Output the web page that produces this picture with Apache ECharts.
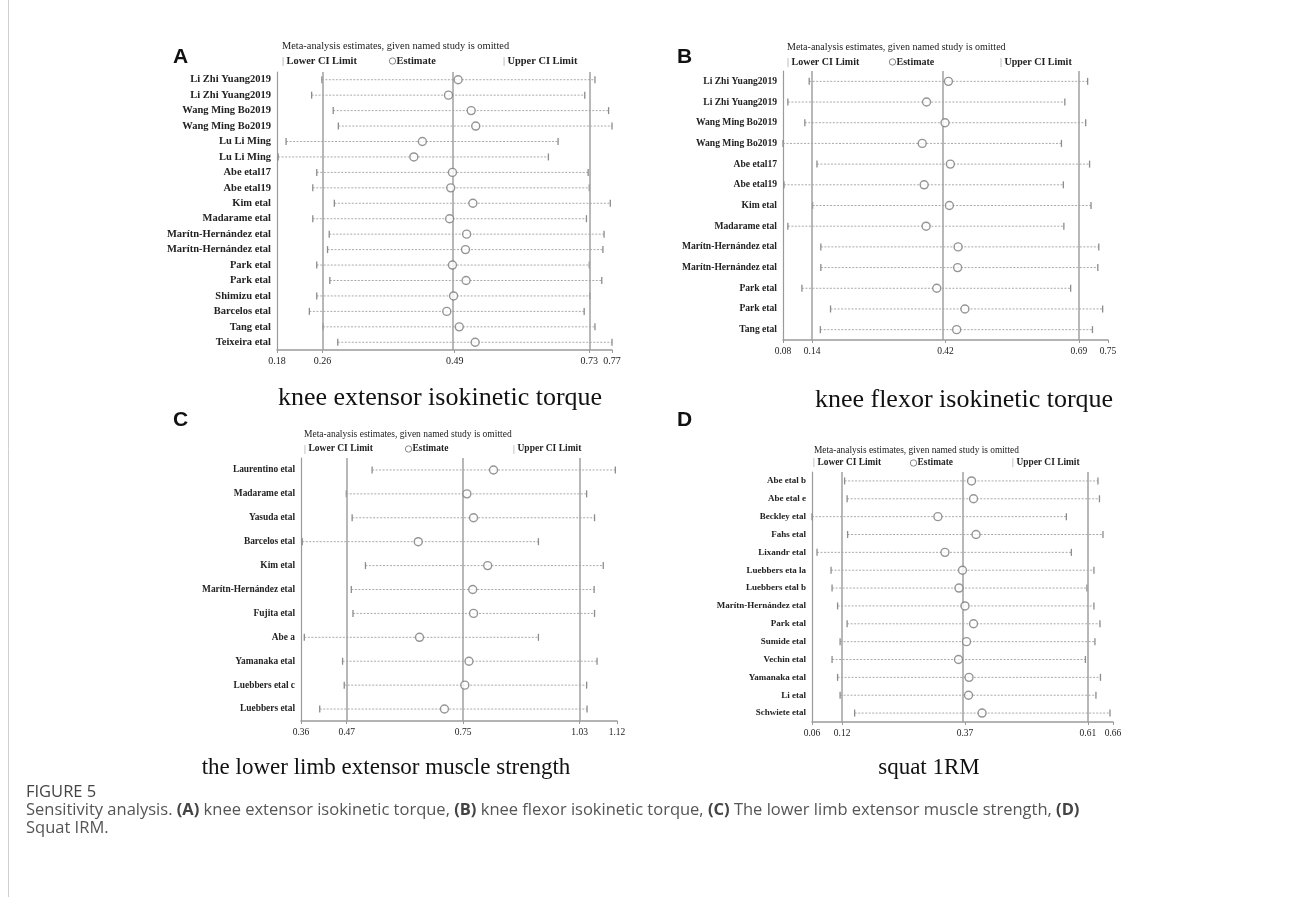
<!DOCTYPE html>
<html><head><meta charset="utf-8">
<script src="https://cdn.jsdelivr.net/npm/echarts@6/dist/echarts.min.js"></script>
<style>html,body{margin:0;padding:0;background:#fff}#c{width:1289px;height:897px}</style>
</head><body><div id="c"></div>
<script>
// ---------- Panel A: knee extensor isokinetic torque ----------
const catsA = ['Li Zhi Yuang2019','Li Zhi Yuang2019','Wang Ming Bo2019','Wang Ming Bo2019','Lu Li Ming','Lu Li Ming','Abe etal17','Abe etal19','Kim etal','Madarame etal','Marítn-Hernández etal','Marítn-Hernández etal','Park etal','Park etal','Shimizu etal','Barcelos etal','Tang etal','Teixeira etal'];
const lowA = [0.259,0.241,0.279,0.288,0.196,0.182,0.250,0.243,0.281,0.243,0.272,0.269,0.250,0.273,0.250,0.237,0.261,0.287];
const estA = [0.499,0.482,0.522,0.530,0.436,0.421,0.489,0.486,0.525,0.484,0.514,0.512,0.489,0.513,0.491,0.479,0.501,0.529];
const upA  = [0.740,0.722,0.764,0.770,0.675,0.658,0.728,0.730,0.767,0.725,0.756,0.754,0.730,0.752,0.731,0.721,0.740,0.770];
const refA = [0.26,0.493,0.73];
const tickA = [0.18,0.26,0.493,0.73,0.77];
const tickLabA = ['0.18','0.26','0.49','0.73','0.77'];

// ---------- Panel B: knee flexor isokinetic torque ----------
const catsB = ['Li Zhi Yuang2019','Li Zhi Yuang2019','Wang Ming Bo2019','Wang Ming Bo2019','Abe etal17','Abe etal19','Kim etal','Madarame etal','Marítn-Hernández etal','Marítn-Hernández etal','Park etal','Park etal','Tang etal'];
const lowB = [0.134,0.090,0.125,0.080,0.150,0.082,0.141,0.090,0.158,0.158,0.119,0.178,0.157];
const estB = [0.421,0.376,0.414,0.367,0.425,0.371,0.423,0.375,0.441,0.440,0.397,0.455,0.438];
const upB  = [0.708,0.661,0.704,0.654,0.712,0.658,0.715,0.659,0.731,0.729,0.673,0.739,0.718];
const refB = [0.14,0.415,0.69];
const tickB = [0.08,0.14,0.415,0.69,0.75];
const tickLabB = ['0.08','0.14','0.42','0.69','0.75'];

// ---------- Panel C: lower limb extensor muscle strength ----------
const catsC = ['Laurentino etal','Madarame etal','Yasuda etal','Barcelos etal','Kim etal','Marítn-Hernández etal','Fujita etal','Abe a','Yamanaka etal','Luebbers etal c','Luebbers etal'];
const lowC = [0.531,0.469,0.483,0.363,0.515,0.481,0.485,0.368,0.460,0.464,0.405];
const estC = [0.823,0.759,0.775,0.642,0.809,0.773,0.775,0.645,0.764,0.754,0.705];
const upC  = [1.116,1.047,1.066,0.931,1.087,1.065,1.066,0.931,1.072,1.047,1.048];
const refC = [0.47,0.75,1.03];
const tickC = [0.36,0.47,0.75,1.03,1.12];
const tickLabC = ['0.36','0.47','0.75','1.03','1.12'];

// ---------- Panel D: squat 1RM ----------
const catsD = ['Abe etal b','Abe etal e','Beckley etal','Fahs etal','Lixandr etal','Luebbers eta la','Luebbers etal b','Marítn-Hernández etal','Park etal','Sumide etal','Vechin etal','Yamanaka etal','Li etal','Schwiete etal'];
const lowD = [0.125,0.130,0.060,0.131,0.070,0.098,0.100,0.111,0.130,0.116,0.100,0.111,0.116,0.145];
const estD = [0.378,0.382,0.311,0.387,0.325,0.360,0.353,0.365,0.382,0.368,0.352,0.373,0.372,0.399];
const upD  = [0.630,0.633,0.567,0.640,0.577,0.622,0.608,0.622,0.634,0.624,0.605,0.635,0.626,0.654];
const refD = [0.12,0.365,0.61];
const tickD = [0.06,0.12,0.365,0.61,0.66];
const tickLabD = ['0.06','0.12','0.37','0.61','0.66'];

const SERIF = '"Liberation Serif","Times New Roman",serif';
const panels = [
  {cats:catsA, low:lowA, est:estA, up:upA, ref:refA, tick:tickA, lab:tickLabA, min:0.18, max:0.77,
   grid:{left:277, top:72, width:335, height:278}, lblSize:10.5, tickSize:10},
  {cats:catsB, low:lowB, est:estB, up:upB, ref:refB, tick:tickB, lab:tickLabB, min:0.08, max:0.75,
   grid:{left:783, top:71, width:325, height:269}, lblSize:9.6, tickSize:9.5},
  {cats:catsC, low:lowC, est:estC, up:upC, ref:refC, tick:tickC, lab:tickLabC, min:0.36, max:1.12,
   grid:{left:301, top:458, width:316, height:263}, lblSize:9.4, tickSize:9.5},
  {cats:catsD, low:lowD, est:estD, up:upD, ref:refD, tick:tickD, lab:tickLabD, min:0.06, max:0.66,
   grid:{left:812, top:472, width:301, height:250}, lblSize:9.0, tickSize:9.5}
];

const grids = [], xAxes = [], yAxes = [], series = [];
panels.forEach((p, k) => {
  grids.push(Object.assign({containLabel:false}, p.grid));
  xAxes.push({
    type:'value', gridIndex:k, min:p.min, max:p.max,
    axisLine:{show:true, lineStyle:{color:'#9a9a9a', width:1.5}},
    axisTick:{show:true, customValues:p.tick, length:3, lineStyle:{color:'#9a9a9a'}},
    axisLabel:{customValues:p.tick, margin:6, color:'#222', fontFamily:SERIF, fontSize:p.tickSize,
      formatter:(v)=>{ const i = p.tick.findIndex(t=>Math.abs(t-v)<1e-6); return i>=0 ? p.lab[i] : ''; }},
    splitLine:{show:false}
  });
  yAxes.push({
    type:'category', gridIndex:k, data:p.cats, inverse:true,
    axisLine:{show:true, lineStyle:{color:'#9a9a9a', width:1.2}},
    axisTick:{show:false},
    axisLabel:{margin:6, color:'#222', fontFamily:SERIF, fontWeight:'bold', fontSize:p.lblSize},
    splitLine:{show:false}
  });
  series.push({
    type:'custom', xAxisIndex:k, yAxisIndex:k, silent:true,
    data:p.cats.map((c,i)=>[p.low[i], i, p.up[i]]),
    renderItem:(params, api)=>{
      const a = api.coord([api.value(0), api.value(1)]);
      const b = api.coord([api.value(2), api.value(1)]);
      return {type:'group', children:[
        {type:'line', shape:{x1:a[0], y1:a[1], x2:b[0], y2:b[1]}, style:{stroke:'#aaaaaa', lineWidth:1, lineDash:[2,1.5]}},
        {type:'line', shape:{x1:a[0], y1:a[1]-3.5, x2:a[0], y2:a[1]+3.5}, style:{stroke:'#8c8c8c', lineWidth:1.3}},
        {type:'line', shape:{x1:b[0], y1:b[1]-3.5, x2:b[0], y2:b[1]+3.5}, style:{stroke:'#8c8c8c', lineWidth:1.3}}
      ]};
    }
  });
  series.push({
    type:'scatter', xAxisIndex:k, yAxisIndex:k, silent:true, symbol:'circle', symbolSize:8,
    itemStyle:{color:'#fff', borderColor:'#7a7a7a', borderWidth:1.4},
    data:p.cats.map((c,i)=>[p.est[i], i]),
    z:5,
    markLine:{silent:true, symbol:'none', label:{show:false},
      lineStyle:{color:'#a0a0a0', width:1.5, type:'solid'},
      data:p.ref.map(v=>({xAxis:v}))}
  });
});

function txt(x, y, text, font, opt){
  return Object.assign({type:'text', silent:true, style:Object.assign({x:x, y:y, text:text, font:font, fill:'#222',
    textAlign:'left', textVerticalAlign:'middle'}, opt||{})});
}
const heads = [
  {lx:173, ly:57, L:'A', tx:282, ty:46, gy:61, x1:282, x2:389, x3:503, ts:10.4},
  {lx:677, ly:57, L:'B', tx:787, ty:47, gy:62, x1:787, x2:889, x3:1000, ts:10},
  {lx:173, ly:420, L:'C', tx:304, ty:434, gy:449, x1:304, x2:405, x3:513, ts:9.5},
  {lx:677, ly:420, L:'D', tx:814, ty:451, gy:463, x1:813, x2:910, x3:1012, ts:9.4}
];
const graphics = [];
heads.forEach(h=>{
  graphics.push(txt(h.lx, h.ly, h.L, 'bold 21px "Liberation Sans", Arial, sans-serif', {fill:'#111'}));
  graphics.push(txt(h.tx, h.ty, 'Meta-analysis estimates, given named study is omitted', h.ts+'px '+SERIF));
  graphics.push(txt(h.x1, h.gy, '|', h.ts+'px '+SERIF, {fill:'#888'}));
  graphics.push(txt(h.x1+4.5, h.gy, 'Lower CI Limit', 'bold '+h.ts+'px '+SERIF));
  graphics.push({type:'circle', silent:true, shape:{cx:h.x2+3.5, cy:h.gy, r:3.2}, style:{fill:'#fff', stroke:'#888', lineWidth:1}});
  graphics.push(txt(h.x2+7.5, h.gy, 'Estimate', 'bold '+h.ts+'px '+SERIF));
  graphics.push(txt(h.x3, h.gy, '|', h.ts+'px '+SERIF, {fill:'#888'}));
  graphics.push(txt(h.x3+4.5, h.gy, 'Upper CI Limit', 'bold '+h.ts+'px '+SERIF));
});
// panel subtitles
graphics.push(txt(440, 398, 'knee extensor isokinetic torque', '26px '+SERIF, {textAlign:'center', fill:'#111'}));
graphics.push(txt(964, 400, 'knee flexor isokinetic torque', '26px '+SERIF, {textAlign:'center', fill:'#111'}));
graphics.push(txt(386, 768, 'the lower limb extensor muscle strength', '23px '+SERIF, {textAlign:'center', fill:'#111'}));
graphics.push(txt(929, 768, 'squat 1RM', '23px '+SERIF, {textAlign:'center', fill:'#111'}));
// figure caption
const SANS = '"Open Sans","Noto Sans",sans-serif';
graphics.push({type:'line', silent:true, shape:{x1:8.5, y1:0, x2:8.5, y2:897}, style:{stroke:'#cfcfcf', lineWidth:1}});
graphics.push(txt(26, 792, 'FIGURE 5', '16.5px '+SANS, {fill:'#444'}));
graphics.push({type:'text', silent:true, style:{x:26, y:810, textVerticalAlign:'middle', font:'16.5px '+SANS, fill:'#555',
  text:'Sensitivity analysis. {b|(A)} knee extensor isokinetic torque, {b|(B)} knee flexor isokinetic torque, {b|(C)} The lower limb extensor muscle strength, {b|(D)}',
  rich:{b:{fontWeight:'bold', fontFamily:SANS, fontSize:16.5, fill:'#444'}}}});
graphics.push(txt(26, 828, 'Squat IRM.', '16.5px '+SANS, {fill:'#555'}));

const chart = echarts.init(document.getElementById('c'));
chart.setOption({
  animation:false, backgroundColor:'#fff',
  grid:grids, xAxis:xAxes, yAxis:yAxes, series:series, graphic:graphics
});
</script></body></html>
